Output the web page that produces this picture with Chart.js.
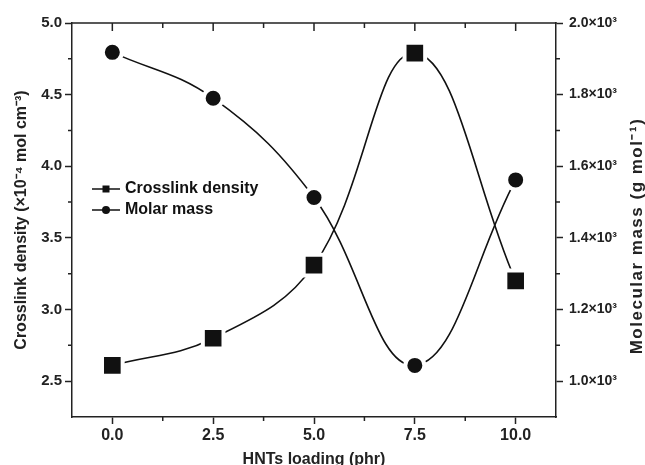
<!DOCTYPE html>
<html lang="en">
<head>
<meta charset="UTF-8">
<title>Crosslink density and molar mass vs HNTs loading</title>
<script src="https://cdn.jsdelivr.net/npm/chart.js"></script>
<style>
  html, body { margin: 0; padding: 0; background: #fff; }
</style>
</head>
<body>
<canvas id="chart" width="645" height="465"></canvas>
<script>
// data
const loading = [0, 2.5, 5, 7.5, 10];                       // phr
const crosslinkDensity = [2.61, 2.80, 3.31, 4.79, 3.20];    // x10^-4 mol cm^-3
const molarMass = [1918, 1790, 1513, 1044, 1562];           // g mol^-1

const xTicks = [0, 2.5, 5, 7.5, 10];
const xMinorTicks = [1.25, 3.75, 6.25, 8.75];
const leftTicks = [2.5, 3.0, 3.5, 4.0, 4.5, 5.0];
const leftMinorTicks = [2.75, 3.25, 3.75, 4.25, 4.75];
const rightTicks = [1000, 1200, 1400, 1600, 1800, 2000];
const rightMinorTicks = [1100, 1300, 1500, 1700, 1900];

const FONT = '"Liberation Sans", Arial, sans-serif';
const AXIS = '#222';
const INK = '#111';

function setTicks(list) {
  return scale => { scale.ticks = list.map(v => ({ value: v })); };
}

// top frame, minor ticks, right-hand title and the legend box
const extras = {
  id: 'extras',
  afterDraw(chart) {
    const { ctx, chartArea: a, scales } = chart;
    const x = scales.x, yl = scales.y, yr = scales.y1;
    ctx.save();
    ctx.strokeStyle = AXIS;
    ctx.lineWidth = 1.5;
    ctx.beginPath();
    ctx.moveTo(a.left - 0.75, a.top);
    ctx.lineTo(a.right + 0.75, a.top);
    // top axis: inward ticks
    xTicks.forEach(v => { const p = x.getPixelForValue(v); ctx.moveTo(p, a.top); ctx.lineTo(p, a.top + 8); });
    xMinorTicks.forEach(v => { const p = x.getPixelForValue(v); ctx.moveTo(p, a.top); ctx.lineTo(p, a.top + 5); });
    // bottom minor ticks
    xMinorTicks.forEach(v => { const p = x.getPixelForValue(v); ctx.moveTo(p, a.bottom); ctx.lineTo(p, a.bottom + 4); });
    leftMinorTicks.forEach(v => { const p = yl.getPixelForValue(v); ctx.moveTo(a.left, p); ctx.lineTo(a.left - 4, p); });
    rightMinorTicks.forEach(v => { const p = yr.getPixelForValue(v); ctx.moveTo(a.right, p); ctx.lineTo(a.right + 4, p); });
    ctx.stroke();

    // right axis title, reading bottom to top
    ctx.save();
    ctx.translate(637, 236);
    ctx.rotate(-Math.PI / 2);
    ctx.fillStyle = AXIS;
    ctx.font = 'bold 17px ' + FONT;
    ctx.letterSpacing = '1.5px';
    ctx.textAlign = 'center';
    ctx.textBaseline = 'middle';
    ctx.fillText('Molecular mass (g mol⁻¹)', 0, 0);
    ctx.restore();

    // legend
    const rows = [189, 210];
    chart.data.datasets.forEach((ds, i) => {
      const y = rows[i];
      ctx.strokeStyle = INK;
      ctx.lineWidth = 1.5;
      ctx.beginPath();
      ctx.moveTo(92, y);
      ctx.lineTo(120, y);
      ctx.stroke();
      ctx.fillStyle = INK;
      ctx.beginPath();
      if (ds.pointStyle === 'rect') ctx.rect(102.5, y - 3.5, 7, 7);
      else ctx.arc(106, y, 4, 0, Math.PI * 2);
      ctx.fill();
      ctx.font = 'bold 16px ' + FONT;
      ctx.textAlign = 'left';
      ctx.textBaseline = 'middle';
      ctx.fillText(ds.label, 125, y);
    });
    ctx.restore();
  }
};

const ctx = document.getElementById('chart').getContext('2d');
new Chart(ctx, {
  type: 'line',
  data: {
    datasets: [
      {
        label: 'Crosslink density',
        data: loading.map((v, i) => ({ x: v, y: crosslinkDensity[i] })),
        yAxisID: 'y',
        borderColor: INK,
        borderWidth: 1.6,
        backgroundColor: INK,
        pointStyle: 'rect',
        pointRadius: 14.6,
        pointBorderColor: '#fff',
        pointBorderWidth: 4,
        tension: 0.4,
        fill: false
      },
      {
        label: 'Molar mass',
        data: loading.map((v, i) => ({ x: v, y: molarMass[i] })),
        yAxisID: 'y1',
        borderColor: INK,
        borderWidth: 1.6,
        backgroundColor: INK,
        pointStyle: 'circle',
        pointRadius: 9.5,
        pointBorderColor: '#fff',
        pointBorderWidth: 4,
        tension: 0.4,
        fill: false
      }
    ]
  },
  options: {
    responsive: false,
    animation: false,
    layout: { padding: { top: 23, bottom: 0, left: 0, right: 0 } },
    plugins: { legend: { display: false }, tooltip: { enabled: false } },
    scales: {
      x: {
        type: 'linear',
        min: -1,
        max: 11,
        afterBuildTicks: setTicks(xTicks),
        afterFit: s => { s.height = 48; },
        border: { display: true, color: AXIS, width: 1.5 },
        grid: { display: true, drawOnChartArea: false, drawTicks: true, tickLength: 7, tickColor: AXIS, tickWidth: 1.5 },
        ticks: {
          color: AXIS, padding: 2, maxRotation: 0,
          font: { family: FONT, size: 16, weight: 'bold' },
          callback: v => v.toFixed(1)
        },
        title: {
          display: true, text: 'HNTs loading (phr)', color: AXIS,
          font: { family: FONT, size: 16, weight: 'bold', lineHeight: 0.7 },
          padding: { top: 0, bottom: 0 }
        }
      },
      y: {
        position: 'left',
        min: 2.25,
        max: 5.0,
        afterBuildTicks: setTicks(leftTicks),
        afterFit: s => { s.width = 72; },
        border: { display: true, color: AXIS, width: 1.5 },
        grid: { display: true, drawOnChartArea: false, drawTicks: true, tickLength: 7, tickColor: AXIS, tickWidth: 1.5 },
        ticks: {
          color: AXIS, padding: 3,
          font: { family: FONT, size: 15, weight: 'bold' },
          callback: v => v.toFixed(1)
        },
        title: {
          display: true, text: 'Crosslink density (×10⁻⁴ mol cm⁻³)', color: AXIS,
          font: { family: FONT, size: 16, weight: 'bold' },
          padding: { top: 12, bottom: 0 }
        }
      },
      y1: {
        position: 'right',
        min: 900,
        max: 2000,
        afterBuildTicks: setTicks(rightTicks),
        afterFit: s => { s.width = 89; },
        border: { display: true, color: AXIS, width: 1.5 },
        grid: { display: true, drawOnChartArea: false, drawTicks: true, tickLength: 7, tickColor: AXIS, tickWidth: 1.5 },
        ticks: {
          color: AXIS, padding: 6,
          font: { family: FONT, size: 14, weight: 'bold' },
          callback: v => (v / 1000).toFixed(1) + '×10³'
        }
      }
    }
  },
  plugins: [extras]
});
</script>
</body>
</html>
